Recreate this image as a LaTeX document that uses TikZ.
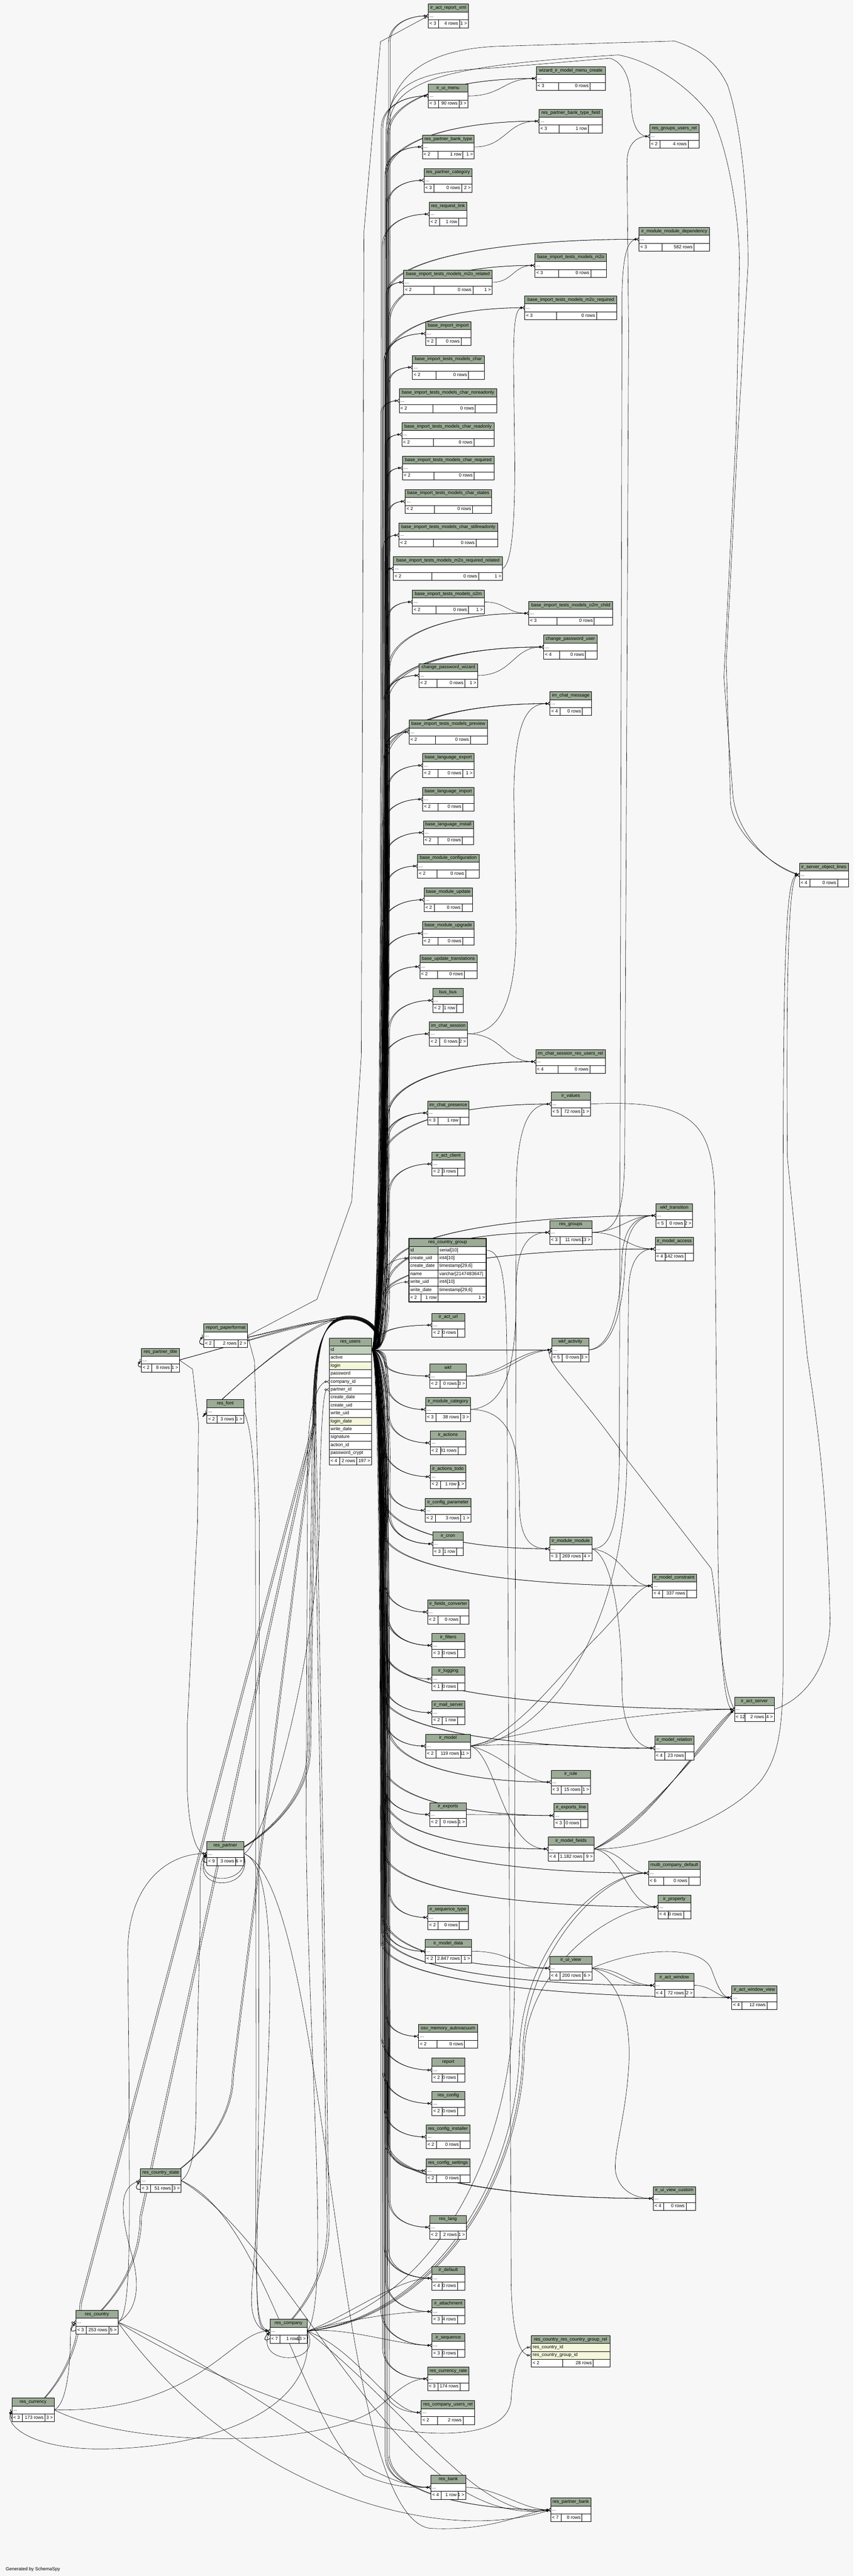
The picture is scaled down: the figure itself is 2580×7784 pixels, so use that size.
\documentclass[tikz,border=0pt]{standalone}
\usepackage{fontspec}
\setmainfont{Liberation Sans}
\usetikzlibrary{arrows.meta}
\pgfdeclarelayer{bg}
\pgfsetlayers{bg,main}
\definecolor{bgc}{HTML}{F7F7F7}
\definecolor{hdrc}{HTML}{9BAB96}
\definecolor{idc}{HTML}{C0D0BC}
\definecolor{yelc}{HTML}{F4F7DA}
\newcommand\tf{\fontsize{14}{16}\selectfont}
\tikzset{
  box/.style={draw=black, line width=1pt, minimum height=24pt, inner sep=0pt, outer sep=0pt, anchor=north west},
  hdr/.style={box, fill=hdrc},
  rowb/.style={box, fill=white},
  lbl/.style={inner sep=0pt, font=\tf, text height=10pt, text depth=3pt},
  fk/.style={line width=0.9pt, -{Circle[open,length=7pt,width=7pt] Straight Barb[reversed,length=6pt,width=10pt]}},
}
% footer with explicit dividers
\newcommand\ftrx[9]{%
  \node[rowb, minimum width=#4pt] (#1-f) at (#2,#3) {};
  \draw[line width=1pt] (#2+#5,#3) -- ++(0,24) (#2+#6,#3) -- ++(0,24);
  \node[lbl,anchor=west] (#1-fl) at (#2+4,#3+12) {#7};
  \node[lbl,anchor=east] (#1-fm) at (#2+#6-4,#3+12) {#8};
  \node[lbl,anchor=east] (#1-fr) at (#2+#4-4,#3+12) {#9};
}
\newcommand\ftr[7]{%
  \pgfmathsetmacro\fa{ifthenelse(#4<150,31,0.4*#4-16)}%
  \pgfmathsetmacro\fb{0.78*#4}%
  \ftrx{#1}{#2}{#3}{#4}{\fa}{\fb}{#5}{#6}{#7}%
}
% table: id, cx, top, width, title, left, mid, right
\newcommand\tbl[8]{%
  \pgfmathsetmacro\tlx{#2-#4/2}%
  \pgfmathsetmacro\tcy{#3+36}%
  \expandafter\xdef\csname tx@#1\endcsname{\tlx}%
  \expandafter\xdef\csname ty@#1\endcsname{\tcy}%
  \node[hdr, minimum width=#4pt] (#1-h) at (\tlx,#3) {};
  \node[lbl] (#1-t) at (#2,#3+12) {#5};
  \node[rowb, minimum width=#4pt] (#1) at (\tlx,#3+24) {};
  \node[lbl, anchor=west] (#1-d) at (\tlx+4,#3+36) {...};
  \ftr{#1}{\tlx}{#3+48}{#4}{#6}{#7}{#8}%
}
% edge from res_users to a table on the right
\newcommand\ue[2]{%
  \pgfmathsetmacro\ux{\csname tx@#1\endcsname}%
  \pgfmathsetmacro\uy{\csname ty@#1\endcsname}%
  \pgfmathsetmacro\ul{1160+#2}%
  \pgfmathsetmacro\udx{\ux-\ul}%
  \pgfmathsetmacro\ud{min(0.7*\udx,170,0.5*abs(\uy-4079))}%
  \pgfmathsetmacro\us{ifthenelse(\uy<4079,1,-1)}%
  \pgfmathsetmacro\ya{\uy+\us*\ud}%
  \pgfmathsetmacro\ym{0.5*\ya+2039.5}%
  \pgfmathsetmacro\yb{\uy+\us*\ud*0.3}%
  \pgfmathsetmacro\xc{\ux-0.5*\udx}%
  \draw[fk] (rusers-id.east) .. controls (\ul,4079) and (\ul,\ym) .. (\ul,\ya) .. controls (\ul,\yb) and (\xc,\uy) .. (#1.west);%
}
\newcommand\uu[1]{%
  \pgfmathsetmacro\oa{mod(mod(\csname ty@#1\endcsname,26)*7,26)-10}%
  \pgfmathsetmacro\ob{\oa+5}%
  \ue{#1}{\oa}\ue{#1}{\ob}%
}
% edges from res_users to tables on the left
\newcommand\leA[2]{%
  \pgfmathsetmacro\ux{\csname tx@#1\endcsname}%
  \pgfmathsetmacro\uy{\csname ty@#1\endcsname}%
  \draw[fk] (rusers-id.east) .. controls (1165+#2,4079) and (1140+#2,3982-#2) .. (1050,3986-#2) .. controls (900,3990-#2) and (\ux-70,\uy+75+#2) .. (#1.west);%
}
\newcommand\leB[3]{%
  \pgfmathsetmacro\ux{\csname tx@#1\endcsname}%
  \pgfmathsetmacro\uy{\csname ty@#1\endcsname}%
  \pgfmathsetmacro\uc{max(\ux-70,8)}%
  \draw[fk] (rusers-id.east) .. controls (1165+#2,4079) and (1140+#2,3982-#2) .. (1050,3986-#2) .. controls (970,3990-#2) and (945+#2,4080) .. (945+#2,4300) -- (#3+#2,\uy-320) .. controls (#3+#2,\uy-60) and (\uc,\uy+85) .. (#1.west);%
}
\newcommand\crow[5]{%
  \node[rowb, fill=#5, minimum width=88pt] (#1) at (1236,#2) {};
  \node[rowb, minimum width=146pt] (#1-ty) at (1324,#2) {};
  \node[lbl,anchor=west] (#1-n) at (1240,#2+12) {#3};
  \node[lbl,anchor=west] (#1-tt) at (1328,#2+12) {#4};
}
\begin{document}
\begin{tikzpicture}[x=1pt,y=-1pt]
\begin{pgfonlayer}{bg}
\fill[bgc] (0,0) rectangle (2580,7784);
\end{pgfonlayer}
\useasboundingbox (0,0) rectangle (2580,7784);

% ---------- column 1
\tbl{iarx}{1355}{12}{121}{ir\_act\_report\_xml}{< 3}{4 rows}{1 >}
\tbl{iuim}{1354}{254}{119}{ir\_ui\_menu}{< 3}{90 rows}{3 >}
\tbl{rpbt}{1355}{408}{157}{res\_partner\_bank\_type}{< 2}{1 row}{1 >}
\tbl{rpcat}{1354}{509}{146}{res\_partner\_category}{< 3}{0 rows}{2 >}
\tbl{rrl}{1354}{611}{114}{res\_request\_link}{< 2}{1 row}{}
\tbl{m2orel}{1354}{817}{268}{base\_import\_tests\_models\_m2o\_related}{< 2}{0 rows}{1 >}
\tbl{bii}{1355}{972}{137}{base\_import\_import}{< 2}{0 rows}{}
\tbl{char}{1355}{1074}{217}{base\_import\_tests\_models\_char}{< 2}{0 rows}{}
\tbl{charnoro}{1354}{1175}{295}{base\_import\_tests\_models\_char\_noreadonly}{< 2}{0 rows}{}
\tbl{charro}{1354}{1277}{279}{base\_import\_tests\_models\_char\_readonly}{< 2}{0 rows}{}
\tbl{charreq}{1355}{1378}{277}{base\_import\_tests\_models\_char\_required}{< 2}{0 rows}{}
\tbl{charst}{1355}{1479}{261}{base\_import\_tests\_models\_char\_states}{< 2}{0 rows}{}
\tbl{charstill}{1355}{1581}{299}{base\_import\_tests\_models\_char\_stillreadonly}{< 2}{0 rows}{}
\tbl{m2oreqrel}{1354}{1682}{330}{base\_import\_tests\_models\_m2o\_required\_related}{< 2}{0 rows}{1 >}
\tbl{o2m}{1355}{1783}{217}{base\_import\_tests\_models\_o2m}{< 2}{0 rows}{1 >}
\tbl{cpw}{1355}{2005}{177}{change\_password\_wizard}{< 2}{0 rows}{1 >}
\tbl{preview}{1355}{2176}{237}{base\_import\_tests\_models\_preview}{< 2}{0 rows}{}
\tbl{ble}{1355}{2277}{155}{base\_language\_export}{< 2}{0 rows}{1 >}
\tbl{bli}{1355}{2379}{155}{base\_language\_import}{< 2}{0 rows}{}
\tbl{blinst}{1355}{2480}{151}{base\_language\_install}{< 2}{0 rows}{}
\tbl{bmc}{1355}{2581}{186}{base\_module\_configuration}{< 2}{0 rows}{}
\tbl{bmupd}{1355}{2683}{147}{base\_module\_update}{< 2}{0 rows}{}
\tbl{bmupg}{1355}{2784}{156}{base\_module\_upgrade}{< 2}{0 rows}{}
\tbl{but}{1355}{2885}{173}{base\_update\_translations}{< 2}{0 rows}{}
\tbl{bus}{1354}{2987}{92}{bus\_bus}{< 2}{1 row}{}
\tbl{ics}{1355}{3088}{115}{im\_chat\_session}{< 2}{0 rows}{2 >}
\tbl{icp}{1355}{3327}{125}{im\_chat\_presence}{< 3}{1 row}{}
\tbl{iac}{1355}{3481}{99}{ir\_act\_client}{< 2}{3 rows}{}
\tbl{iau}{1355}{3968}{99}{ir\_act\_url}{< 2}{0 rows}{}
\tbl{wkf}{1354}{4122}{111}{wkf}{< 2}{0 rows}{3 >}
\tbl{imc}{1354}{4223}{135}{ir\_module\_category}{< 3}{38 rows}{3 >}
\tbl{iact}{1354}{4324}{108}{ir\_actions}{< 2}{81 rows}{}
\tbl{iatodo}{1354}{4426}{107}{ir\_actions\_todo}{< 2}{1 row}{1 >}
\tbl{icfg}{1354}{4528}{138}{ir\_config\_parameter}{< 2}{3 rows}{1 >}
\tbl{icron}{1354}{4629}{92}{ir\_cron}{< 3}{1 row}{}
\tbl{ifc}{1355}{4835}{125}{ir\_fields\_converter}{< 2}{0 rows}{}
\tbl{ifilt}{1355}{4936}{99}{ir\_filters}{< 3}{0 rows}{}
\tbl{ilog}{1355}{5037}{99}{ir\_logging}{< 1}{0 rows}{}
\tbl{imail}{1355}{5139}{99}{ir\_mail\_server}{< 2}{1 row}{}
\tbl{imodel}{1354}{5240}{135}{ir\_model}{< 2}{119 rows}{11 >}
\tbl{iexp}{1354}{5447}{111}{ir\_exports}{< 2}{0 rows}{1 >}
\tbl{iseqt}{1354}{5758}{122}{ir\_sequence\_type}{< 2}{0 rows}{}
\tbl{imd}{1355}{5860}{140}{ir\_model\_data}{< 2}{2.847 rows}{1 >}
\tbl{osv}{1354}{6117}{178}{osv\_memory\_autovacuum}{< 2}{0 rows}{}
\tbl{report}{1355}{6219}{99}{report}{< 2}{0 rows}{}
\tbl{rconf}{1355}{6320}{99}{res\_config}{< 2}{0 rows}{}
\tbl{rconfi}{1354}{6421}{132}{res\_config\_installer}{< 2}{0 rows}{}
\tbl{rconfs}{1354}{6523}{132}{res\_config\_settings}{< 2}{0 rows}{}
\tbl{rlang}{1354}{6694}{111}{res\_lang}{< 2}{2 rows}{1 >}
\tbl{idef}{1355}{6848}{99}{ir\_default}{< 4}{0 rows}{}
\tbl{iatt}{1355}{6949}{99}{ir\_attachment}{< 3}{4 rows}{}
\tbl{iseq}{1355}{7051}{99}{ir\_sequence}{< 3}{0 rows}{}
\tbl{rcr}{1355}{7152}{125}{res\_currency\_rate}{< 3}{174 rows}{}
\tbl{rcur}{1354}{7254}{162}{res\_company\_users\_rel}{< 2}{2 rows}{}
\tbl{rbank}{1355}{7480}{105}{res\_bank}{< 4}{1 row}{1 >}

% ---------- column 2
\tbl{wizard}{1725}{201}{208}{wizard\_ir\_model\_menu\_create}{< 3}{0 rows}{}
\tbl{rpbtf}{1725}{330}{191}{res\_partner\_bank\_type\_field}{< 3}{1 row}{}
\tbl{m2o}{1725}{766}{216}{base\_import\_tests\_models\_m2o}{< 3}{0 rows}{}
\tbl{m2oreq}{1725}{894}{278}{base\_import\_tests\_models\_m2o\_required}{< 3}{0 rows}{}
\tbl{o2mchild}{1725}{1817}{254}{base\_import\_tests\_models\_o2m\_child}{< 3}{0 rows}{}
\tbl{cpu}{1724}{1919}{162}{change\_password\_user}{< 4}{0 rows}{}
\tbl{icm}{1725}{2090}{126}{im\_chat\_message}{< 4}{0 rows}{}
\tbl{icsrel}{1724}{3172}{210}{im\_chat\_session\_res\_users\_rel}{< 4}{0 rows}{}
\tbl{ival}{1725}{3300}{119}{ir\_values}{< 5}{72 rows}{1 >}
\tbl{rgroups}{1725}{3688}{127}{res\_groups}{< 3}{11 rows}{13 >}
\tbl{wkfact}{1724}{4043}{112}{wkf\_activity}{< 5}{0 rows}{3 >}
\tbl{imm}{1725}{4644}{127}{ir\_module\_module}{< 3}{269 rows}{4 >}
\tbl{irule}{1725}{5349}{119}{ir\_rule}{< 3}{15 rows}{1 >}
\tbl{iexpl}{1726}{5450}{103}{ir\_exports\_line}{< 3}{0 rows}{}
\tbl{imf}{1726}{5551}{139}{ir\_model\_fields}{< 4}{1.182 rows}{9 >}
\tbl{iuiv}{1725}{5911}{127}{ir\_ui\_view}{< 4}{200 rows}{6 >}
\tbl{rpb}{1725}{7548}{121}{res\_partner\_bank}{< 7}{0 rows}{}

% ---------- column 3
\tbl{rgur}{2038}{376}{149}{res\_groups\_users\_rel}{< 2}{4 rows}{}
\tbl{immd}{2038}{687}{213}{ir\_module\_module\_dependency}{< 3}{582 rows}{}
\tbl{wkft}{2038}{3637}{111}{wkf\_transition}{< 5}{0 rows}{2 >}
\tbl{ima}{2038}{3738}{116}{ir\_model\_access}{< 4}{142 rows}{}
\tbl{imcon}{2038}{4756}{133}{ir\_model\_constraint}{< 4}{337 rows}{}
\tbl{imrel}{2038}{5246}{119}{ir\_model\_relation}{< 4}{23 rows}{}
\tbl{mcd}{2038}{5624}{156}{multi\_company\_default}{< 6}{0 rows}{}
\tbl{iprop}{2038}{5726}{99}{ir\_property}{< 4}{0 rows}{}
\tbl{iaw}{2038}{5963}{119}{ir\_act\_window}{< 4}{72 rows}{2 >}
\tbl{iuvc}{2038}{6607}{127}{ir\_ui\_view\_custom}{< 4}{0 rows}{}

% ---------- column 4
\tbl{ias}{2280}{5129}{120}{ir\_act\_server}{< 12}{2 rows}{4 >}
\tbl{iawv}{2280}{6000}{137}{ir\_act\_window\_view}{< 4}{12 rows}{}
\tbl{isol}{2490}{2608}{148}{ir\_server\_object\_lines}{< 4}{0 rows}{}

% ---------- left side
\tbl{rpf}{682}{4000}{133}{report\_paperformat}{< 2}{2 rows}{2 >}
\tbl{rpt}{485}{4074}{115}{res\_partner\_title}{< 2}{8 rows}{1 >}
\tbl{rfont}{681}{4229}{111}{res\_font}{< 2}{3 rows}{1 >}
\tbl{rpartner}{681}{5565}{111}{res\_partner}{< 9}{3 rows}{6 >}
\tbl{rcs}{486}{6553}{123}{res\_country\_state}{< 3}{51 rows}{3 >}
\tbl{rcountry}{293}{6981}{127}{res\_country}{< 3}{253 rows}{5 >}
\tbl{rcurrency}{100}{7246}{128}{res\_currency}{< 3}{173 rows}{3 >}
\tbl{rcompany}{872}{7008}{113}{res\_company}{< 7}{1 row}{13 >}

% ---------- res_users
\node[hdr, minimum width=128pt] (rusers-h) at (995,4043) {};
\node[lbl] (rusers-t) at (1059,4055) {res\_users};
\foreach \k/\c/\f [count=\i] in {id/id/idc, active/active/white, login/login/yelc, password/password/white, company/company\_id/white, partner/partner\_id/white, cdate/create\_date/white, cuid/create\_uid/white, wuid/write\_uid/white, ldate/login\_date/yelc, wdate/write\_date/white, sig/signature/white, action/action\_id/white, pwc/password\_crypt/white} {
  \node[rowb, fill=\f, minimum width=128pt] (rusers-\k) at (995,{4043+24*\i}) {};
  \node[lbl, anchor=west] (rusers-\k-t) at (999,{4055+24*\i}) {\c};
}
\ftrx{rusers}{995}{4403}{128}{31}{83}{< 4}{2 rows}{197 >}

% ---------- res_country_group (focal table)
\node[hdr, minimum width=234pt] (rcg-h) at (1236,3742) {};
\node[lbl] (rcg-t) at (1353,3754) {res\_country\_group};
\crow{rcg-id}{3766}{id}{serial[10]}{idc}
\crow{rcgc}{3790}{create\_uid}{int4[10]}{white}
\crow{rcg-cd}{3814}{create\_date}{timestamp[29,6]}{white}
\crow{rcg-nm}{3838}{name}{varchar[2147483647]}{white}
\crow{rcgw}{3862}{write\_uid}{int4[10]}{white}
\crow{rcg-wd}{3886}{write\_date}{timestamp[29,6]}{white}
\ftrx{rcg}{1236}{3910}{234}{37}{88}{< 2}{1 row}{1 >}
\draw[line width=3pt] (1236,3742) rectangle (1470,3934);
\expandafter\xdef\csname tx@rcgc\endcsname{1236}
\expandafter\xdef\csname ty@rcgc\endcsname{3802}
\expandafter\xdef\csname tx@rcgw\endcsname{1236}
\expandafter\xdef\csname ty@rcgw\endcsname{3874}

% ---------- res_country_res_country_group_rel
\node[hdr, minimum width=237pt] (rcrel-h) at (1606,7057) {};
\node[lbl] (rcrel-t) at (1724.5,7069) {res\_country\_res\_country\_group\_rel};
\node[rowb, fill=yelc, minimum width=237pt] (rcrel-c1) at (1606,7081) {};
\node[lbl, anchor=west] (rcrel-c1t) at (1610,7093) {res\_country\_id};
\node[rowb, fill=yelc, minimum width=237pt] (rcrel-c2) at (1606,7105) {};
\node[lbl, anchor=west] (rcrel-c2t) at (1610,7117) {res\_country\_group\_id};
\ftrx{rcrel}{1606}{7129}{237}{95}{187}{< 2}{28 rows}{}

\node[lbl, anchor=west] (gen) at (17,7764) {Generated by SchemaSpy};

% =================== connectors
\begin{pgfonlayer}{bg}
% res_users -> right-hand tables
\uu{iarx}\uu{iuim}\uu{rpbt}\uu{rpcat}\uu{rrl}\uu{m2orel}\uu{bii}\uu{char}
\uu{charnoro}\uu{charro}\uu{charreq}\uu{charst}\uu{charstill}\uu{m2oreqrel}
\uu{o2m}\uu{cpw}\uu{preview}\uu{ble}\uu{bli}\uu{blinst}\uu{bmc}\uu{bmupd}
\uu{bmupg}\uu{but}\uu{bus}\uu{ics}\uu{icp}\uu{iac}\uu{iau}\uu{wkf}\uu{imc}
\uu{iact}\uu{iatodo}\uu{icfg}\uu{icron}\uu{ifc}\uu{ifilt}\ue{ilog}{3}\uu{imail}
\uu{imodel}\uu{iexp}\uu{iseqt}\uu{imd}\uu{osv}\uu{report}\uu{rconf}\uu{rconfi}
\uu{rconfs}\uu{rlang}\uu{idef}\uu{iatt}\uu{iseq}\uu{rcr}\ue{rcur}{4}\uu{rbank}
\uu{wizard}\uu{rpbtf}\uu{m2o}\uu{m2oreq}\uu{o2mchild}\uu{cpu}\uu{icm}\uu{icsrel}
\uu{ival}\uu{rgroups}\uu{wkfact}\uu{imm}\uu{irule}\uu{iexpl}\uu{imf}\uu{iuiv}\uu{rpb}
\uu{immd}\uu{wkft}\uu{ima}\uu{imcon}\uu{imrel}\uu{mcd}\uu{iprop}\uu{iaw}\uu{iuvc}
\uu{ias}\uu{iawv}
\ue{rcgc}{-2}\ue{rcgw}{6}
\ue{icm}{12}\ue{cpu}{13}\ue{icsrel}{12}\ue{icp}{14}\ue{icron}{14}\ue{ifilt}{14}\ue{idef}{14}\ue{iuvc}{14}
% res_users -> res_groups_users_rel (along the top)
\draw[fk] (rusers-id.east) .. controls (1162,4079) and (1165,3800) .. (1165,3400) -- (1167,400) .. controls (1168,230) and (1300,215) .. (1500,205) -- (1843,176) .. controls (1880,186) and (1905,230) .. (1907,300) .. controls (1908,380) and (1930,412) .. (rgur.west);
% res_users -> ir_server_object_lines (two long edges)
\draw[fk] (rusers-id.east) .. controls (1165,4079) and (1168,3800) .. (1168,3400) -- (1170,400) .. controls (1172,220) and (1300,150) .. (1500,140) -- (2039,124) .. controls (2120,150) and (2171,195) .. (2200,260) .. controls (2240,381) and (2261,600) .. (2261,800) -- (2231,1300) -- (2195,2000) -- (2208,2427) .. controls (2215,2500) and (2300,2600) .. (isol.west);
\draw[fk] (rusers-id.east) .. controls (1170,4079) and (1172,3800) .. (1172,3400) -- (1174,400) .. controls (1175,250) and (1300,200) .. (1870,166) .. controls (1990,190) and (2100,280) .. (2153,356) .. controls (2200,450) and (2235,650) .. (2235,800) -- (2225,1300) -- (2188,2046) -- (2215,2400) .. controls (2225,2520) and (2330,2620) .. (isol.west);
% res_users -> left-hand tables
\leA{rpf}{0}\leA{rpf}{5}
\leA{rpt}{2}\leA{rpt}{7}
\leA{rfont}{4}\leA{rfont}{9}
\leB{rpartner}{0}{930}\leB{rpartner}{5}{930}\leB{rpartner}{9}{930}
\leB{rcs}{2}{700}\leB{rcs}{6}{700}
\leB{rcountry}{3}{420}\leB{rcountry}{8}{420}
\leB{rcurrency}{1}{240}\leB{rcurrency}{6}{240}
\leB{rcompany}{4}{985}\leB{rcompany}{10}{985}

% left cluster
\draw[fk] (rpf.east) -- (958,3926) -- (1063,3630) -- (1092,3189) -- (1100,700) -- (1150,126) -- (iarx.west);
\draw[fk] (rpf.east) -- (769,4112) -- (784,4600) -- (782,6300) .. controls (780,6900) and (760,7044) .. (rcompany.west);
\draw[fk] (rfont.east) .. controls (755,4300) and (770,4400) .. (772,4600) -- (774,6300) .. controls (772,6950) and (770,7030) .. (rcompany.west);
\draw[fk] (rpt.east) -- (582,4137) -- (600,4300) -- (597,4600) -- (566,5212) -- (566,5406) .. controls (570,5520) and (590,5601) .. (rpartner.west);
\draw[fk] (rcompany.east) .. controls (1000,6950) and (930,6200) .. (925,5500) -- (930,4400) .. controls (932,4250) and (960,4175) .. (rusers-company.west);
\draw[fk] (rpartner.east) .. controls (800,5580) and (960,5000) .. (965,4600) .. controls (968,4350) and (975,4199) .. (rusers-partner.west);
\draw[fk] (rpartner.east) .. controls (900,5650) and (760,6800) .. (760,6950) .. controls (760,7020) and (790,7044) .. (rcompany.west);
\draw[fk] (rpartner.east) .. controls (760,5700) and (580,5700) .. (rpartner.west);
\draw[fk] (rpartner.east) .. controls (770,5718) and (570,5718) .. (rpartner.west);
\draw[fk] (rcountry.east) .. controls (420,6980) and (420,6900) .. (402,6826) .. controls (360,6680) and (360,6610) .. (rcs.west);
\draw[fk] (rcountry.east) .. controls (400,7000) and (390,6700) .. (390,6300) -- (386,5900) .. controls (386,5700) and (500,5601) .. (rpartner.west);
\draw[fk] (rcs.east) .. controls (590,6560) and (593,6450) .. (593,6300) -- (605,5800) .. controls (606,5680) and (600,5620) .. (rpartner.west);
\draw[fk] (rcurrency.east) .. controls (210,7260) and (213,7100) .. (213,7050) .. controls (213,7030) and (220,7018) .. (rcountry.west);
\draw[fk] (rcurrency.east) .. controls (600,7290) and (700,7044) .. (rcompany.west);
\draw[fk] (rcompany.east) .. controls (960,7300) and (600,7400) .. (300,7400) .. controls (100,7400) and (10,7330) .. (rcurrency.west);
\draw[fk] (rcurrency.east) .. controls (400,7400) and (1000,7400) .. (1150,7268) .. controls (1200,7225) and (1240,7188) .. (rcr.west);
\draw[fk] (rcompany.east) .. controls (1050,7000) and (1200,6884) .. (idef.west);
\draw[fk] (rcompany.east) .. controls (1050,7010) and (1200,6985) .. (iatt.west);
\draw[fk] (rcompany.east) .. controls (1050,7030) and (1200,7087) .. (iseq.west);
\draw[fk] (rcompany.east) .. controls (1080,7100) and (1180,7290) .. (rcur.west);
\draw[fk] (rcompany.east) .. controls (1250,7300) and (1450,7620) .. (rpb.west);
\draw[fk] (rcompany.east) .. controls (1300,7000) and (1560,6600) .. (1570,6200) .. controls (1575,5900) and (1800,5660) .. (mcd.west);
\draw[fk] (rcompany.east) .. controls (1305,7005) and (1570,6600) .. (1580,6200) .. controls (1585,5920) and (1810,5660) .. (mcd.west);
\draw[fk] (rcompany.east) .. controls (1310,7010) and (1575,6600) .. (1585,6200) .. controls (1590,5950) and (1850,5762) .. (iprop.west);
\draw[fk] (rcompany.east) .. controls (1320,6950) and (1555,6500) .. (1555,6000) -- (1560,3600) .. controls (1562,3400) and (1600,3336) .. (ival.west);
\draw[fk] (rcompany.east) .. controls (980,7150) and (770,7150) .. (rcompany.west);
\draw[fk] (rpartner.east) .. controls (1000,5700) and (1000,7600) .. (1300,7640) .. controls (1500,7650) and (1600,7584) .. (rpb.west);
\draw[fk] (rcountry.east) .. controls (700,7150) and (1100,7520) .. (rbank.west);
\draw[fk] (rcs.east) .. controls (800,6700) and (900,7300) .. (1100,7480) .. controls (1200,7520) and (1250,7516) .. (rbank.west);
\draw[fk] (rcountry.east) .. controls (700,7500) and (1300,7700) .. (rpb.west);
\draw[fk] (rcs.east) .. controls (900,6800) and (1200,7650) .. (rpb.west);
\draw[fk] (rbank.east) .. controls (1500,7516) and (1580,7584) .. (rpb.west);
\draw[fk] (rcountry.east) .. controls (900,7350) and (1530,7450) .. (1545,7250) .. controls (1550,7150) and (1570,7093) .. (rcrel-c1.west);
\draw[fk] (rcg-id-ty.east) .. controls (1515,3778) and (1530,3850) .. (1532,4100) -- (1545,6900) .. controls (1548,7050) and (1570,7117) .. (rcrel-c2.west);

% main internal connectors
\draw[fk] (iuim.east) .. controls (1520,290) and (1520,237) .. (wizard.west);
\draw[fk] (rpbt.east) .. controls (1530,444) and (1530,366) .. (rpbtf.west);
\draw[fk] (m2orel.east) .. controls (1550,853) and (1550,802) .. (m2o.west);
\draw[fk] (m2oreqrel.east) .. controls (1545,1705) and (1556,1600) .. (1556,1400) -- (1552,1100) .. controls (1552,960) and (1560,930) .. (m2oreq.west);
\draw[fk] (o2m.east) .. controls (1530,1819) and (1530,1853) .. (o2mchild.west);
\draw[fk] (cpw.east) .. controls (1550,2041) and (1550,1955) .. (cpu.west);
\draw[fk] (ics.east) .. controls (1520,3124) and (1520,3208) .. (icsrel.west);
\draw[fk] (ics.east) .. controls (1500,3124) and (1560,3050) .. (1560,2800) -- (1553,2400) .. controls (1556,2160) and (1600,2126) .. (icm.west);
\draw[fk] (imc.east) .. controls (1560,4259) and (1570,4400) .. (1570,4550) .. controls (1572,4660) and (1610,4680) .. (imm.west);
\draw[fk] (imc.east) .. controls (1540,4250) and (1560,4100) .. (1560,3900) .. controls (1560,3760) and (1600,3724) .. (rgroups.west);
\draw[fk] (wkf.east) .. controls (1520,4158) and (1560,4079) .. (wkfact.west);
\draw[fk] (wkf.east) .. controls (1530,4165) and (1570,4085) .. (wkfact.west);
\draw[fk] (ias.west) .. controls (2180,5100) and (2170,4850) .. (2150,4740) -- (1898,4414) .. controls (1750,4200) and (1640,4110) .. (wkfact.west);
\draw[fk] (wkfact.east) .. controls (1850,4070) and (1875,3950) .. (1880,3800) .. controls (1885,3700) and (1930,3673) .. (wkft.west);
\draw[fk] (wkfact.east) .. controls (1855,4075) and (1885,3950) .. (1890,3800) .. controls (1895,3705) and (1935,3673) .. (wkft.west);
\draw[fk] (rgroups.east) .. controls (1860,3724) and (1885,3680) .. (1888,3500) -- (1900,1000) -- (1895,500) .. controls (1893,440) and (1920,412) .. (rgur.west);
\draw[fk] (rgroups.east) .. controls (1880,3724) and (1900,3774) .. (ima.west);
\draw[fk] (rgroups.east) .. controls (1880,3720) and (1900,3673) .. (wkft.west);
\draw[fk] (imm.east) .. controls (1850,4680) and (1870,4600) .. (1872,4400) -- (1880,900) .. controls (1881,760) and (1900,723) .. (immd.west);
\draw[fk] (imm.east) .. controls (1880,4690) and (1900,4792) .. (imcon.west);
\draw[fk] (imm.east) .. controls (1850,4700) and (1880,4900) .. (1880,5100) .. controls (1880,5230) and (1930,5282) .. (imrel.west);
\draw[fk] (imodel.east) .. controls (1600,5270) and (1890,5000) .. (1895,4400) -- (1900,3900) .. controls (1902,3800) and (1940,3774) .. (ima.west);
\draw[fk] (imodel.east) .. controls (1550,5260) and (1700,5050) .. (1800,4950) .. controls (1880,4870) and (1930,4792) .. (imcon.west);
\draw[fk] (imodel.east) .. controls (1700,5260) and (1850,5290) .. (imrel.west);
\draw[fk] (imodel.east) .. controls (1520,5300) and (1580,5385) .. (irule.west);
\draw[fk] (imodel.east) .. controls (1500,5300) and (1520,5587) .. (imf.west);
\draw[fk] (imodel.east) .. controls (1700,5200) and (2100,5165) .. (ias.west);
\draw[fk] (imf.east) .. controls (1880,5590) and (1900,5660) .. (mcd.west);
\draw[fk] (imf.east) .. controls (1880,5600) and (1900,5762) .. (iprop.west);
\draw[fk] (imf.east) .. controls (1950,5500) and (2150,5250) .. (ias.west);
\draw[fk] (imf.east) .. controls (1960,5510) and (2140,5240) .. (ias.west);
\draw[fk] (imf.east) .. controls (1970,5520) and (2130,5230) .. (ias.west);
\draw[fk] (imf.east) .. controls (1950,5590) and (2200,5500) .. (2300,5380) .. controls (2360,5300) and (2367,5200) .. (2367,5000) -- (2367,3500) .. controls (2368,2800) and (2380,2644) .. (isol.west);
\draw[fk] (ias.east) .. controls (2420,5140) and (2505,5050) .. (2509,4900) .. controls (2500,4500) and (2470,4300) .. (2440,4100) -- (2380,3500) .. controls (2375,2900) and (2385,2650) .. (isol.west);
\draw[fk] (ival.east) .. controls (2100,3320) and (2150,3400) .. (2160,3600) -- (2170,4700) .. controls (2175,5000) and (2190,5165) .. (ias.west);
\draw[fk] (iexp.east) .. controls (1550,5483) and (1550,5486) .. (iexpl.west);
\draw[fk] (imd.east) .. controls (1550,5896) and (1550,5947) .. (iuiv.west);
\draw[fk] (iuiv.east) .. controls (1880,5947) and (1900,5999) .. (iaw.west);
\draw[fk] (iuiv.east) .. controls (1870,5960) and (1890,6005) .. (iaw.west);
\draw[fk] (iuiv.east) .. controls (1950,5880) and (2120,5880) .. (2150,5950) .. controls (2165,5990) and (2180,6036) .. (iawv.west);
\draw[fk] (iaw.east) .. controls (2150,5999) and (2170,6036) .. (iawv.west);
\draw[fk] (iuiv.east) .. controls (1870,5980) and (1910,6100) .. (1900,6250) .. controls (1890,6400) and (1855,6500) .. (1860,6560) .. controls (1870,6620) and (1920,6643) .. (iuvc.west);
\end{pgfonlayer}
\end{tikzpicture}
\end{document}
